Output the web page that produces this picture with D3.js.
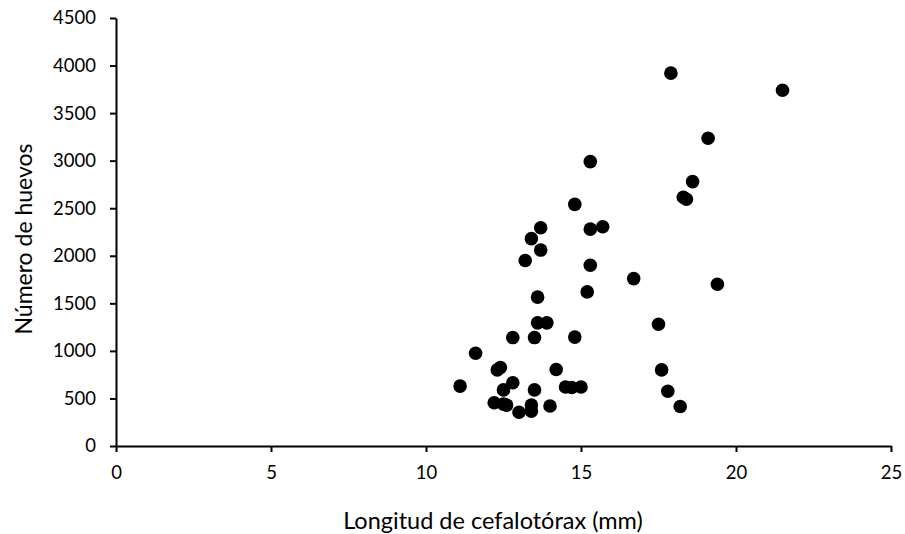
<!DOCTYPE html>
<html>
<head>
<meta charset="utf-8">
<script src="https://cdn.jsdelivr.net/npm/d3@7"></script>
<style>
  html, body { margin: 0; padding: 0; background: #fff; }
  svg { display: block; }
  text { font-family: Lato, "Open Sans", sans-serif; fill: #000; }
</style>
</head>
<body>
<svg id="chart" width="905" height="534"></svg>
<script>
// Cephalothorax length (mm) and egg count per female
const longitud = [
  11.1, 11.6, 12.3, 12.4, 12.8, 12.5, 12.2, 12.5, 12.6, 13.5,
  13.0, 13.4, 13.4, 14.2, 14.5, 14.7, 15.0, 14.0, 12.8, 13.5,
  13.6, 13.9, 13.6, 14.8, 14.8, 13.7, 15.3, 15.7, 13.4, 13.7,
  13.2, 15.3, 16.7, 15.2, 15.3, 18.6, 18.3, 18.4, 19.4, 17.5,
  17.6, 17.8, 18.2, 17.9, 19.1, 21.5
];
const huevos = [
  630, 975, 800, 825, 665, 590, 455, 440, 430, 590,
  355, 430, 365, 805, 620, 615, 620, 420, 1140, 1140,
  1295, 1295, 1565, 1145, 2540, 2295, 2280, 2305, 2180, 2060,
  1950, 1900, 1760, 1620, 2990, 2780, 2615, 2595, 1700, 1280,
  800, 575, 415, 3920, 3235, 3740
];
const xTicks = [0, 5, 10, 15, 20, 25];
const yTicks = [0, 500, 1000, 1500, 2000, 2500, 3000, 3500, 4000, 4500];
const xTitle = "Longitud de cefalotórax (mm)";
const yTitle = "Número de huevos";

const svg = d3.select("#chart");
const m = { left: 116, right: 891, top: 18, bottom: 446 };

const x = d3.scaleLinear().domain([0, 25]).range([m.left, m.right]);
const y = d3.scaleLinear().domain([0, 4500]).range([m.bottom, m.top]);

const xAxis = svg.append("g")
  .attr("transform", `translate(0,${m.bottom})`)
  .call(d3.axisBottom(x).tickValues(xTicks).tickFormat(d3.format("d"))
    .tickSize(6).tickSizeOuter(0).tickPadding(14));
const yAxis = svg.append("g")
  .attr("transform", `translate(${m.left},0)`)
  .call(d3.axisLeft(y).tickValues(yTicks).tickFormat(d3.format("d"))
    .tickSize(6).tickSizeOuter(0).tickPadding(14));

[xAxis, yAxis].forEach(g => {
  g.select(".domain").attr("stroke", "#000").attr("stroke-width", 2);
  g.selectAll(".tick line").attr("stroke", "#000").attr("stroke-width", 2);
  g.selectAll(".tick text").style("font-size", "18.5px").attr("fill", "#000");
});

// Points
const pts = longitud.map((v, i) => ({ x: v, y: huevos[i] }));
svg.append("g").selectAll("circle")
  .data(pts)
  .join("circle")
  .attr("cx", d => x(d.x))
  .attr("cy", d => y(d.y))
  .attr("r", 6.8)
  .attr("fill", "#000");

// Axis titles
svg.append("text")
  .attr("x", 493)
  .attr("y", 529)
  .attr("text-anchor", "middle")
  .style("font-size", "23.5px")
  .text(xTitle);

svg.append("text")
  .attr("transform", `translate(32,${(m.top + m.bottom) / 2 + 7}) rotate(-90)`)
  .attr("text-anchor", "middle")
  .style("font-size", "23px")
  .text(yTitle);
</script>
</body>
</html>
